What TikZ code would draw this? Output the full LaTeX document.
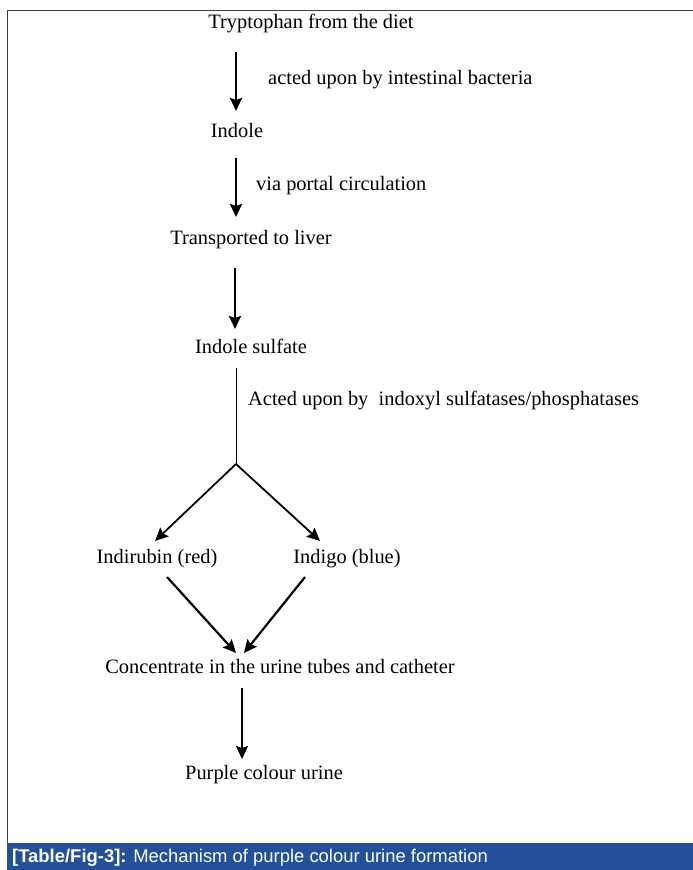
\documentclass[tikz,border=0pt]{standalone}
\usepackage{fontspec}
\setmainfont{Liberation Serif}
\newfontfamily\capfont{Liberation Sans}
\usetikzlibrary{arrows.meta}
\definecolor{capblue}{HTML}{234F9B}
\begin{document}
\begin{tikzpicture}[x=1bp,y=-1bp,
  txt/.style={inner sep=0pt, font=\fontsize{20.5}{24}\selectfont},
  lbl/.style={inner sep=0pt, anchor=west, font=\fontsize{20.5}{24}\selectfont},
  arr/.style={line width=2.2pt, -{Stealth[length=13bp,width=12bp,inset=2bp]}},
  thinline/.style={line width=1pt}]
\useasboundingbox (0,0) rectangle (693,870);
\fill[white] (0,0) rectangle (693,870);
\draw[line width=0.8pt, black!75] (7,843) -- (7,10) -- (693,10);
\fill[capblue] (7,843) rectangle (693,870);
\node[anchor=west, inner sep=0pt, text=white, font=\capfont\fontsize{18.5}{20}\selectfont] (cap) at (12,858) {\textbf{[Table/Fig-3]:} Mechanism of purple colour urine formation};

\node[txt] (tryp) at (311,24) {Tryptophan from the diet};
\node[txt] (indole) at (237,131) {Indole};
\node[txt] (liver) at (251,240) {Transported to liver};
\node[txt] (sulf) at (251,346) {Indole sulfate};
\node[txt] (red) at (157,559) {Indirubin (red)};
\node[txt] (blue) at (347,559) {Indigo (blue)};
\node[txt] (conc) at (280,667) {Concentrate in the urine tubes and catheter};
\node[txt] (purple) at (264,775) {Purple colour urine};

\coordinate (a1s) at (236,52);  \coordinate (a1e) at (236,111);
\coordinate (a2s) at (236,158); \coordinate (a2e) at (236,217);
\coordinate (a3s) at (235,268); \coordinate (a3e) at (235,329);
\coordinate (ls) at (236,368);  \coordinate (br) at (236,464);
\coordinate (le) at (155,541);  \coordinate (re) at (320,541);
\coordinate (c1s) at (167,577); \coordinate (c1e) at (236,653);
\coordinate (c2s) at (305,577); \coordinate (c2e) at (244,653);
\coordinate (a4s) at (242,688); \coordinate (a4e) at (242,759);

\draw[arr] (a1s) -- (a1e);
\draw[arr] (a2s) -- (a2e);
\draw[arr] (a3s) -- (a3e);
\draw[thinline] (ls) -- (br);
\draw[arr, line width=1.8pt] (br) -- (le);
\draw[arr, line width=1.8pt] (br) -- (re);
\draw[arr] (c1s) -- (c1e);
\draw[arr] (c2s) -- (c2e);
\draw[arr] (a4s) -- (a4e);

\node[lbl] (l1) at (268,80) {acted upon by intestinal bacteria};
\node[lbl] (l2) at (256,186) {via portal circulation};
\node[lbl] (l3) at (248,401) {Acted upon by\ \ indoxyl sulfatases/phosphatases};
\end{tikzpicture}
\end{document}
